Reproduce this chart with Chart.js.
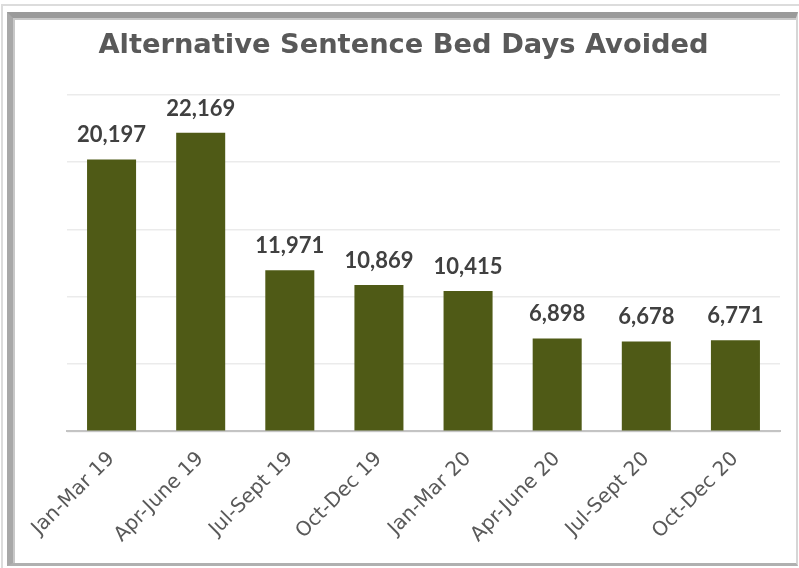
<!DOCTYPE html>
<html>
<head>
<meta charset="utf-8">
<script src="https://cdn.jsdelivr.net/npm/chart.js@4.4.1/dist/chart.umd.min.js"></script>
<style>
  html, body { margin: 0; padding: 0; background: #fff; }
  #wrap { position: relative; width: 799px; height: 568px; overflow: hidden; }
  #outer { position: absolute; left: 1px; top: 4px; width: 798px; height: 564px;
           border-top: 2px solid #dcdcdc; border-left: 2px solid #dcdcdc; box-sizing: border-box; }
  #inner { position: absolute; left: 7px; top: 12px; width: 791px; height: 554px; box-sizing: border-box;
           border-top: 6px solid #9a9a9a; border-left: 6px solid #a8a8a8;
           border-right: 2px solid #d6d6d6; border-bottom: 3px solid #b0b0b0;
           box-shadow: inset 2px 2px 0 #c8c8c8; }
  canvas { position: absolute; left: 0; top: 0; }
</style>
</head>
<body>
<div id="wrap">
  <div id="outer"></div>
  <div id="inner"></div>
  <canvas id="c" width="799" height="568"></canvas>
</div>
<script>
const TITLE = 'Alternative Sentence Bed Days Avoided';
const categories = ['Jan-Mar 19', 'Apr-June 19', 'Jul-Sept 19', 'Oct-Dec 19', 'Jan-Mar 20', 'Apr-June 20', 'Jul-Sept 20', 'Oct-Dec 20'];
const bedDaysAvoided = [20197, 22169, 11971, 10869, 10415, 6898, 6678, 6771];
const yTicks = [0, 5000, 10000, 15000, 20000, 25000];

const LABEL_FONT = "Lato, 'DejaVu Sans', sans-serif";
const TEXT_FONT = "'DejaVu Sans', sans-serif";

const valueLabels = {
  id: 'valueLabels',
  afterDatasetsDraw(chart) {
    const ctx = chart.ctx;
    const meta = chart.getDatasetMeta(0);
    ctx.save();
    ctx.font = "bold 22px " + LABEL_FONT;
    ctx.fillStyle = '#404040';
    ctx.textAlign = 'center';
    ctx.textBaseline = 'alphabetic';
    meta.data.forEach((bar, i) => {
      const v = chart.data.datasets[0].data[i];
      ctx.fillText(v.toLocaleString('en-US'), bar.x, bar.y - 17);
    });
    ctx.restore();
  }
};

new Chart(document.getElementById('c'), {
  type: 'bar',
  data: {
    labels: categories,
    datasets: [{
      data: bedDaysAvoided,
      backgroundColor: '#4f5a16',
      borderWidth: 0,
      barPercentage: 0.55,
      categoryPercentage: 1.0
    }]
  },
  options: {
    responsive: false,
    animation: false,
    devicePixelRatio: 1,
    layout: { padding: { left: 27, right: 19, top: 20, bottom: 13 } },
    plugins: {
      legend: { display: false },
      tooltip: { enabled: false },
      title: {
        display: true,
        text: TITLE,
        color: '#595959',
        font: { family: TEXT_FONT, size: 27.3, weight: 'bold' },
        padding: { top: 10, bottom: 32 }
      }
    },
    scales: {
      x: {
        grid: { display: false },
        border: { display: true, color: '#c4c4c4', width: 2 },
        ticks: {
          color: '#595959',
          font: { family: TEXT_FONT, size: 20 },
          minRotation: 45,
          maxRotation: 45,
          padding: 8
        }
      },
      y: {
        min: 0,
        max: 25000,
        afterBuildTicks(scale) { scale.ticks = yTicks.map(v => ({ value: v })); },
        afterFit(scale) { scale.width = 40; },
        grid: { color: '#ebebeb', lineWidth: 1.5, drawTicks: false },
        border: { display: false },
        ticks: { display: false }
      }
    }
  },
  plugins: [valueLabels]
});
</script>
</body>
</html>
